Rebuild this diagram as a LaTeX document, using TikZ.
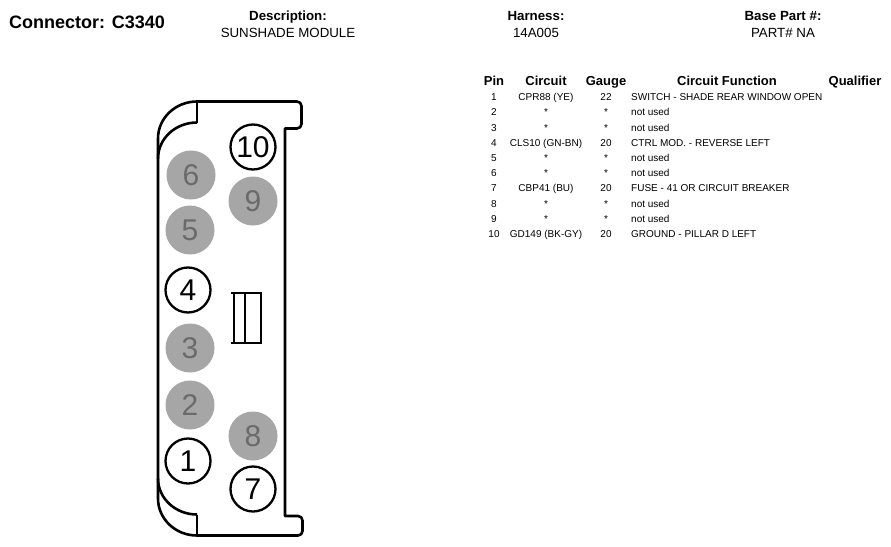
\documentclass[tikz,border=0pt]{standalone}
\usepackage{fontspec}
\setmainfont{Liberation Sans}
\definecolor{pingray}{HTML}{A6A6A6}
\definecolor{digitgray}{HTML}{6A6A6A}
\begin{document}
\begin{tikzpicture}[x=1pt,y=-1pt,
  outline/.style={line width=2.6pt,line join=round},
  whitepin/.style={circle,draw=black,line width=2.3pt,fill=white,minimum size=45pt,inner sep=0pt,font=\fontsize{30}{30}\selectfont},
  graypin/.style={circle,fill=pingray,minimum size=49pt,inner sep=0pt,text=digitgray,font=\fontsize{30}{30}\selectfont},
  hdrbold/.style={anchor=base,inner sep=0pt,font=\fontsize{13.3}{14}\selectfont\bfseries},
  hdrtext/.style={anchor=base,inner sep=0pt,font=\fontsize{13.3}{14}\selectfont},
  colhead/.style={anchor=base,inner sep=0pt,font=\fontsize{13}{14}\selectfont\bfseries},
  cell/.style={anchor=base,inner sep=0pt,font=\fontsize{10}{11}\selectfont},
  fcell/.style={anchor=base west,inner sep=0pt,font=\fontsize{10}{11}\selectfont}]
\useasboundingbox[fill=white] (0,0) rectangle (891,546);

% header
\node[anchor=base west,inner sep=0pt,font=\fontsize{18}{18}\selectfont\bfseries] (conn) at (9,28) {Connector: C3340};
\node[hdrbold] (desch) at (288,20) {Description:};
\node[hdrtext] (desc) at (288,37) {SUNSHADE MODULE};
\node[hdrbold] (harnh) at (536,20) {Harness:};
\node[hdrtext] (harn) at (536,37) {14A005};
\node[hdrbold] (baseh) at (783,20) {Base Part \#:};
\node[hdrtext] (base) at (783,37) {PART\# NA};

% connector outline (coordinate space has y pointing down)
\draw[outline] (197,101.5) -- (297,101.5) arc[start angle=270,end angle=360,radius=4.5]
  -- (301.5,124) arc[start angle=0,end angle=90,radius=4.5] -- (285,128.5)
  -- (285,516) -- (298,516) arc[start angle=270,end angle=360,radius=4.5]
  -- (302.5,531) arc[start angle=0,end angle=90,radius=4.5] -- (197,535.5);
\draw[outline] (197,101.5) -- (197,122.5);
\draw[outline] (197,535.5) -- (197,514.5);
\draw[outline] (197,101.5) arc[start angle=270,end angle=180,x radius=39,y radius=37] -- (158,498.5)
  arc[start angle=180,end angle=90,x radius=39,y radius=37];
\draw[outline] (197,122.5) arc[start angle=270,end angle=180,x radius=39,y radius=36];
\draw[outline] (197,514.5) arc[start angle=90,end angle=180,x radius=39,y radius=36];

% latch
\draw[line width=2.4pt] (231,293) -- (262,293) (231,343) -- (262,343)
  (234,293) -- (234,343) (245,293) -- (245,343) (261,293) -- (261,343);

% pins
\node[whitepin] (p10) at (253,147) {10};
\node[graypin] (p9) at (253,201) {9};
\node[graypin] (p6) at (191,175) {6};
\node[graypin] (p5) at (190,230) {5};
\node[whitepin] (p4) at (188,290) {4};
\node[graypin] (p3) at (190,348) {3};
\node[graypin] (p2) at (190,405) {2};
\node[graypin] (p8) at (253,436) {8};
\node[whitepin] (p1) at (188,461) {1};
\node[whitepin] (p7) at (253,489) {7};

% table header
\node[colhead] (hpin) at (494,85) {Pin};
\node[colhead] (hcir) at (546,85) {Circuit};
\node[colhead] (hgau) at (606,85) {Gauge};
\node[colhead] (hfun) at (727,85) {Circuit Function};
\node[colhead] (hqua) at (855,85) {Qualifier};

% table rows
\foreach \i/\c/\g/\f [count=\n from 0] in {
  1/CPR88 (YE)/22/SWITCH - SHADE REAR WINDOW OPEN,
  2/*/*/not used,
  3/*/*/not used,
  4/CLS10 (GN-BN)/20/CTRL MOD. - REVERSE LEFT,
  5/*/*/not used,
  6/*/*/not used,
  7/CBP41 (BU)/20/FUSE - 41 OR CIRCUIT BREAKER,
  8/*/*/not used,
  9/*/*/not used,
  10/GD149 (BK-GY)/20/GROUND - PILLAR D LEFT} {
  \pgfmathsetmacro{\yy}{100.6+15.2*\n}
  \node[cell] (rp\i) at (494,\yy) {\i};
  \node[cell] (rc\i) at (546,\yy) {\c};
  \node[cell] (rg\i) at (606,\yy) {\g};
  \node[fcell] (rf\i) at (631,\yy) {\f};
}
\end{tikzpicture}
\end{document}
